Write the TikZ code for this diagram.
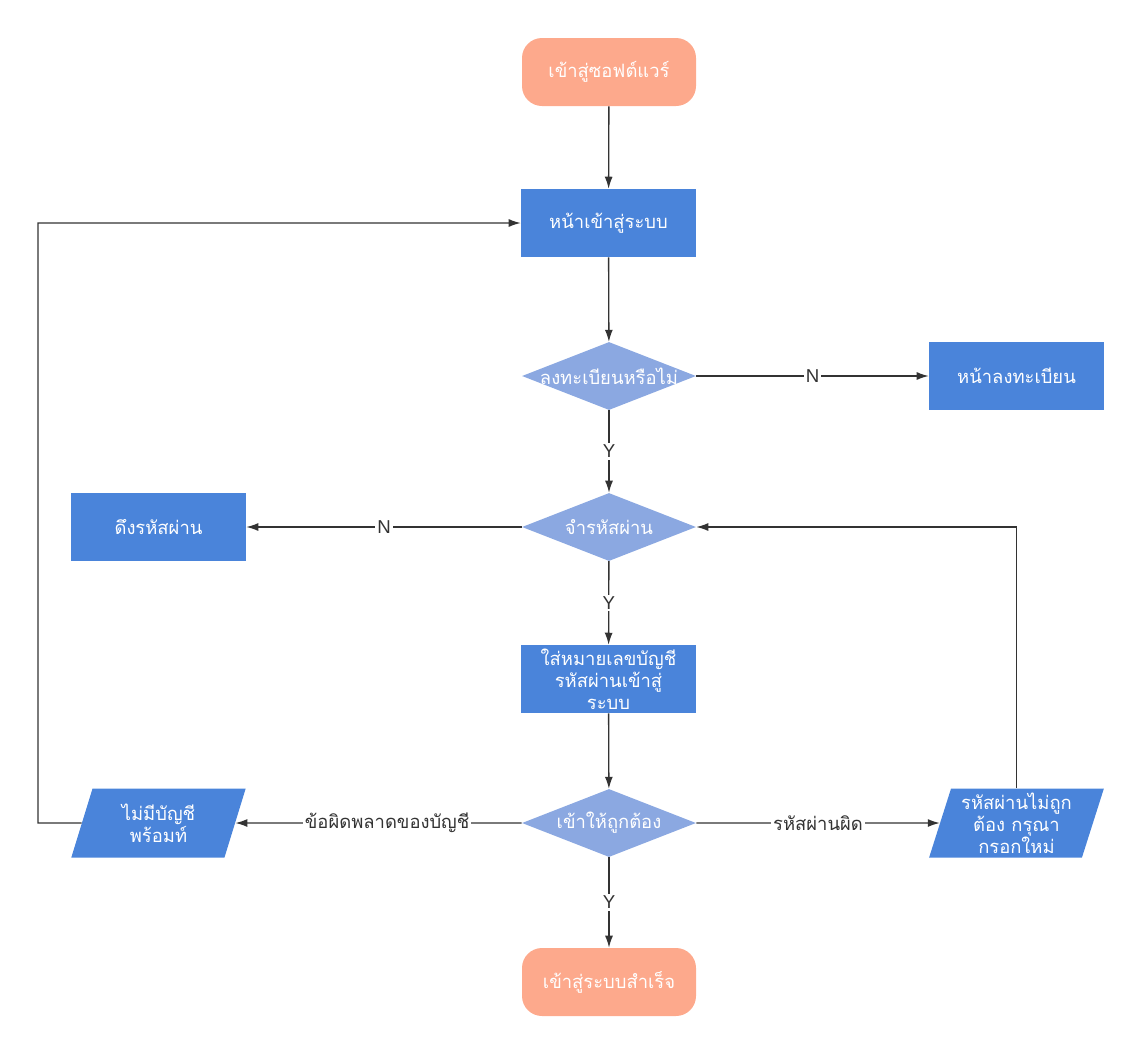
\documentclass[tikz,border=0pt]{standalone}
\usepackage{fontspec}
\setmainfont{Liberation Sans}
\newfontfamily\thaifont[Script=Thai]{Loma}
\usepackage{tikz}
\usetikzlibrary{shapes.geometric, arrows.meta}
\usepackage{xcolor}
\definecolor{avvio}{HTML}{FDA98C}
\definecolor{blu}{HTML}{4A84DA}
\definecolor{azzurro}{HTML}{8BA8E1}
\definecolor{linea}{HTML}{333333}

\begin{document}
\begin{tikzpicture}[x = 0.75pt, y = -0.75pt,
    base/.style = {font = \thaifont\fontsize{13.8}{16.5}\selectfont, text = white, align = center, inner sep = 0pt},
    terminal/.style = {base, rectangle, rounded corners = 15pt, fill = avvio, minimum width = 130.5pt, minimum height = 51pt},
    box/.style = {base, rectangle, fill = blu, minimum width = 131.25pt, minimum height = 51pt},
    decision/.style = {base, diamond, fill = azzurro, minimum width = 130.5pt, minimum height = 51pt},
    datain/.style = {base, trapezium, trapezium left angle = 73, trapezium right angle = 107, trapezium stretches = true, fill = blu, minimum width = 131.25pt, minimum height = 51.75pt},
    flow/.style = {draw = linea, line width = 1pt, -{Latex[length = 9pt, width = 6pt]}},
    lbl/.style = {fill = white, text = linea, inner sep = 1.5pt, font = \thaifont\fontsize{13.8}{16}\selectfont},
    yn/.style = {lbl, font = \fontsize{14}{16}\selectfont}]
    % Riquadro
    \useasboundingbox (0,0) rectangle (1142,1054);
    % Nodi
    \node[terminal] (start) at (609,72) {เข้าสู่ซอฟต์แวร์};
    \node[box] (login) at (608.5,223) {หน้าเข้าสู่ระบบ};
    \node[decision] (reg?) at (609,376) {\makebox[0pt]{ลงทะเบียนหรือไม่}};
    \node[box] (reg) at (1016.5,376) {หน้าลงทะเบียน};
    \node[decision] (pwd?) at (609,527) {\makebox[0pt]{จำรหัสผ่าน}};
    \node[box] (forgot) at (158.5,527) {ดึงรหัสผ่าน};
    \node[box] (input) at (608.5,679) {ใส่หมายเลขบัญชี\\รหัสผ่านเข้าสู่\\ระบบ};
    \node[decision] (ok?) at (609,823) {\makebox[0pt]{เข้าให้ถูกต้อง}};
    \node[datain] (noacct) at (158.5,823) {ไม่มีบัญชี\\พร้อมท์};
    \node[datain] (wrong) at (1016.5,823) {รหัสผ่านไม่ถูก\\ต้อง กรุณา\\กรอกใหม่};
    \node[terminal] (done) at (609,982) {เข้าสู่ระบบสำเร็จ};
    \coordinate (back) at (38,823);
    % Frecce
    \draw[flow] (start) -- (login);
    \draw[flow] (login) -- (reg?);
    \draw[flow] (reg?) -- node[yn] {N} (reg);
    \draw[flow] (reg?) -- node[yn] {Y} (pwd?);
    \draw[flow] (pwd?) -- node[yn] {N} (forgot);
    \draw[flow] (pwd?) -- node[yn] {Y} (input);
    \draw[flow] (input) -- (ok?);
    \draw[flow] (ok?) -- node[lbl, pos = 0.47] {ข้อผิดพลาดของบัญชี} (noacct);
    \draw[flow] (ok?) -- node[lbl] {รหัสผ่านผิด} (wrong);
    \draw[flow] (ok?) -- node[yn] {Y} (done);
    \draw[flow] (wrong.north) |- (pwd?.east);
    \draw[flow] (noacct.west) -- (back) |- (login.west);
\end{tikzpicture}
\end{document}
